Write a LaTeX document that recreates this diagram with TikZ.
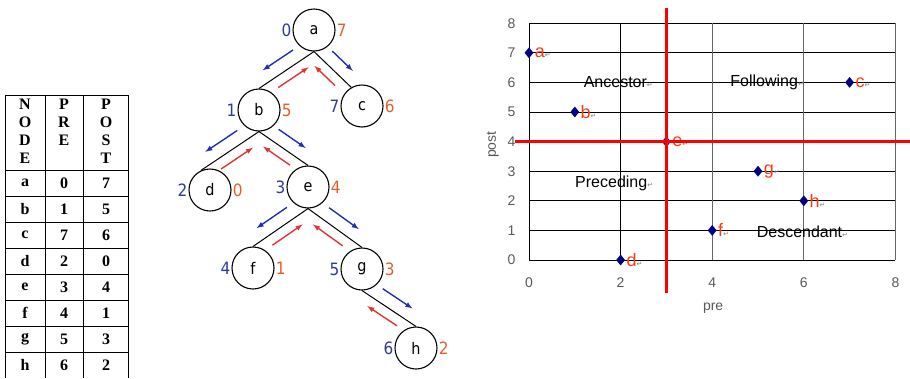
\documentclass[tikz,border=0pt]{standalone}
\usepackage{fontspec}
\setmainfont{Liberation Serif}
\newfontfamily\treefont{DejaVu Sans Condensed}
\newfontfamily\plotfont{Liberation Sans}
\newfontfamily\symfont{DejaVu Sans}
\usetikzlibrary{calc,shapes.geometric}

\definecolor{walkblue}{HTML}{1F2FB5}
\definecolor{walkred}{HTML}{E03535}
\definecolor{prenum}{HTML}{2E3A9E}
\definecolor{postnum}{HTML}{E0602C}
\definecolor{ptblue}{HTML}{000080}
\definecolor{ptlabel}{HTML}{FF3A10}

% return mark after the chart texts
\newcommand\ret{{\symfont\fontsize{7}{7}\selectfont\textcolor{gray}{↵}}}

% down (preorder) and up (postorder) arrows beside a tree edge
\newcommand\walk[3]{%
  \draw[down walk] ($(#1)!.25!(#2)!13pt!#3:(#2)$) -- ($(#1)!.8!(#2)!13pt!#3:(#2)$);
  \draw[up walk] ($(#1)!.75!(#2)!-10pt!#3:(#2)$) -- ($(#1)!.2!(#2)!-10pt!#3:(#2)$);}

\begin{document}
\begin{tikzpicture}[x=1pt,y=-1pt,
  cell/.style={font=\fontsize{16}{18}\selectfont\bfseries,inner sep=0pt},
  tree node/.style={circle,draw,line width=1.1pt,minimum size=42pt,inner sep=0pt,
    font=\treefont\fontsize{16}{16}\selectfont},
  pre num/.style={text=prenum,font=\treefont\fontsize{17}{17}\selectfont,inner sep=1pt},
  post num/.style={text=postnum,font=\treefont\fontsize{17}{17}\selectfont,inner sep=1pt},
  tree edge/.style={line width=1pt},
  down walk/.style={walkblue,line width=1.4pt,-latex},
  up walk/.style={walkred,line width=1.4pt,-latex},
  grid h/.style={line width=0.9pt},
  grid v/.style={line width=0.7pt,black!60},
  split line/.style={red,line width=3.5pt},
  pt/.style={diamond,fill=ptblue,minimum width=9pt,minimum height=11pt,inner sep=0pt},
  pt name/.style={text=ptlabel,font=\plotfont\fontsize{18}{18}\selectfont,inner sep=1pt},
  tick/.style={text=black!65,font=\plotfont\fontsize{14}{14}\selectfont},
  region/.style={font=\plotfont\fontsize{16}{16}\selectfont}]

  \useasboundingbox (0,0) rectangle (910,378);

  % table
  \foreach \x in {5,45,83,128}
    \draw[line width=0.9pt] (\x,95) -- (\x,378);
  \foreach \y in {95,170,196,222,248,274,300,326,352}
    \draw[line width=0.9pt] (5,\y) -- (128,\y);
  \node[cell,anchor=north,align=center] at (25,99) {N\\O\\D\\E};
  \node[cell,anchor=north,align=center] at (64,99) {P\\R\\E};
  \node[cell,anchor=north,align=center] at (106,99) {P\\O\\S\\T};
  \foreach \n/\pr/\po [count=\i] in {a/0/7,b/1/5,c/7/6,d/2/0,e/3/4,f/4/1,g/5/3,h/6/2} {
    \node[cell] at (25,{157+26*\i}) {\n};
    \node[cell] at (64,{157+26*\i}) {\pr};
    \node[cell] at (106,{157+26*\i}) {\po};
  }

  % tree
  \node[tree node,label={[pre num]left:0},label={[post num]right:7}] (a) at (314,30) {a};
  \node[tree node,label={[pre num]left:1},label={[post num]right:5}] (b) at (259,110) {b};
  \node[tree node,label={[pre num]left:7},label={[post num]right:6}] (c) at (362,106) {c};
  \node[tree node,label={[pre num]left:2},label={[post num]right:0}] (d) at (210,190) {d};
  \node[tree node,label={[pre num]left:3},label={[post num]right:4}] (e) at (308,187) {e};
  \node[tree node,label={[pre num]left:4},label={[post num]right:1}] (f) at (253,268) {f};
  \node[tree node,label={[pre num]left:5},label={[post num]right:3}] (g) at (362,269) {g};
  \node[tree node,label={[pre num]left:6},label={[post num]right:2}] (h) at (416,348) {h};

  \path[tree edge]
   (a.south) edge (b.north)
   (a.south) edge (c.120)
   (b.south) edge (d.115)
   (b.south) edge (e.north)
   (e.south) edge (f.north)
   (e.south) edge (g.north)
   (g.south) edge (h.north);

  \walk{a.south}{b.north}{-90}
  \walk{a.south}{c.120}{90}
  \walk{b.south}{d.115}{-90}
  \walk{b.south}{e.north}{90}
  \walk{e.south}{f.north}{-90}
  \walk{e.south}{g.north}{90}
  \walk{g.south}{h.north}{90}

  % pre/post plane
  \begin{scope}[shift={(529,260)},x=45.8pt,y=29.6pt]
    \foreach \y in {1,...,8}
      \draw[grid h] (0,\y) -- (8,\y);
    \foreach \x in {2,4,6,8}
      \draw[grid v] (\x,0) -- (\x,8);
    \draw[grid h] (0,0) -- (8,0);
    \draw[grid h] (0,0) -- (0,8);
    \draw[grid h] (2,0) -- (2,8);

    \foreach \y in {0,...,8}
      \node[tick,anchor=east] at (-0.22,\y) {\y};
    \foreach \x in {0,2,4,6,8}
      \node[tick] at (\x,-0.78) {\x};
    \node[tick] (xlab) at (4.02,-1.62) {pre};
    \node[tick,rotate=90] (ylab) at (-0.79,3.9) {post};

    \foreach \n/\px/\py in {a/0/7,b/1/5,c/7/6,d/2/0,e/3/4,f/4/1,g/5/3,h/6/2}
      \node[pt,label={[pt name]right:\n\ret}] (p\n) at (\px,\py) {};

    \draw[split line] (3,8.5) -- (3,-1.12);
    \draw[split line] (-0.3,4) -- (8.32,4);

    \node[region] (anc) at (1.95,6) {Ancestor\ret};
    \node[region] (fol) at (5.2,6) {Following\ret};
    \node[region] (prec) at (1.86,2.6) {Preceding\ret};
    \node[region] (desc) at (5.97,0.95) {Descendant\ret};
  \end{scope}
\end{tikzpicture}
\end{document}
